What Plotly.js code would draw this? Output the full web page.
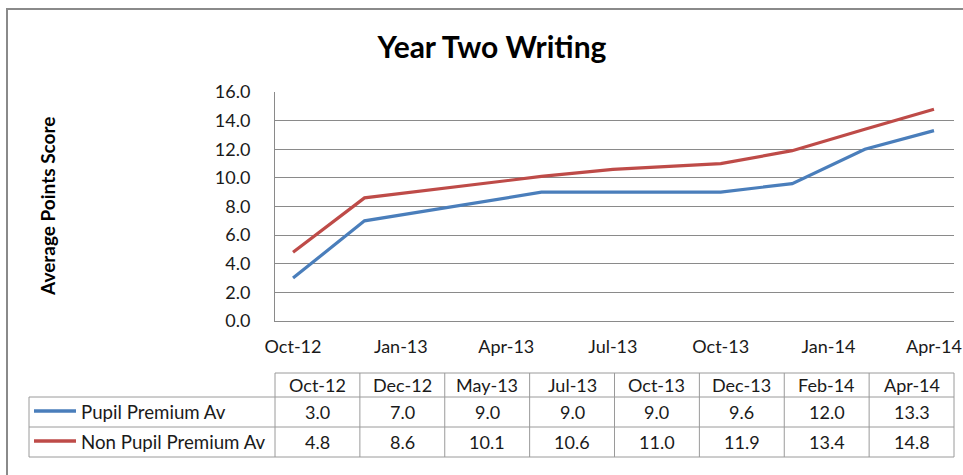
<!DOCTYPE html>
<html>
<head>
<meta charset="utf-8">
<script src="https://cdn.plot.ly/plotly-3.0.1.min.js"></script>
<style>
  html, body { margin: 0; padding: 0; background: #fff; overflow: hidden; }
  #chart { width: 963px; height: 475px; overflow: hidden; }
</style>
</head>
<body>
<div id="chart"></div>
<script>
// ---- data ----
const dates = ['2012-10-01', '2012-12-01', '2013-05-01', '2013-07-01', '2013-10-01', '2013-12-01', '2014-02-01', '2014-04-01'];
const tableLabels = ['Oct-12', 'Dec-12', 'May-13', 'Jul-13', 'Oct-13', 'Dec-13', 'Feb-14', 'Apr-14'];
const pupilPremium = [3.0, 7.0, 9.0, 9.0, 9.0, 9.6, 12.0, 13.3];
const nonPupilPremium = [4.8, 8.6, 10.1, 10.6, 11.0, 11.9, 13.4, 14.8];
const seriesNames = ['Pupil Premium Av', 'Non Pupil Premium Av'];
const chartTitle = 'Year Two Writing';
const yTitle = 'Average Points Score';

// ---- styling / layout ----
const colors = ['#4A7EBB', '#BE4B48'];
const FONT = 'Lato, "Open Sans", sans-serif';
const W = 963, H = 475;
const PL = 275, PR = 954, PT = 92, PB = 321;
const px = x => (x - PL) / (PR - PL);
const py = y => (PB - y) / (PB - PT);

const traces = [pupilPremium, nonPupilPremium].map((vals, i) => ({
  x: dates, y: vals, type: 'scatter', mode: 'lines', name: seriesNames[i],
  line: { color: colors[i], width: 3.2 }, hoverinfo: 'x+y'
}));

const shapes = [];
const annotations = [];
const lineCol = '#9a9a9a';
function hline(y, x0, x1, c, w) {
  shapes.push({ type: 'line', xref: 'paper', yref: 'paper', x0: px(x0), x1: px(x1), y0: py(y), y1: py(y), line: { color: c || lineCol, width: w || 1 } });
}
function vline(x, y0, y1, c, w) {
  shapes.push({ type: 'line', xref: 'paper', yref: 'paper', x0: px(x), x1: px(x), y0: py(y0), y1: py(y1), line: { color: c || lineCol, width: w || 1 } });
}

// outer chart border (only left + top visible in the frame)
hline(9, 6, 963, '#8a8a8a', 2);
vline(7, 8, 475, '#8a8a8a', 2);

// data table
const tTop = 373, tH = 397, tR1 = 427, tBot = 457, tLeft = 29;
const colW = (PR - PL) / tableLabels.length;
hline(tTop, PL, PR);
hline(tH, tLeft, PR);
hline(tR1, tLeft, PR);
hline(tBot, tLeft, PR);
vline(tLeft, tH, tBot);
for (let i = 0; i <= tableLabels.length; i++) vline(PL + i * colW, tTop, tBot);

const txt = (x, y, t, anchor, size) => annotations.push({
  xref: 'paper', yref: 'paper', x: px(x), y: py(y), text: t, showarrow: false,
  xanchor: anchor || 'center', yanchor: 'middle', font: { family: FONT, size: size || 18, color: '#1a1a1a' }
});
tableLabels.forEach((lab, i) => txt(PL + (i + 0.5) * colW, (tTop + tH) / 2, lab));
[pupilPremium, nonPupilPremium].forEach((vals, r) => {
  const yc = r === 0 ? (tH + tR1) / 2 : (tR1 + tBot) / 2;
  vals.forEach((v, i) => txt(PL + (i + 0.5) * colW, yc, v.toFixed(1)));
  shapes.push({ type: 'line', xref: 'paper', yref: 'paper', x0: px(34), x1: px(76), y0: py(yc - 1), y1: py(yc - 1), line: { color: colors[r], width: 3.5 } });
  txt(79, yc, seriesNames[r], 'left', 18.7);
});

// y-axis title
annotations.push({
  xref: 'paper', yref: 'paper', x: px(47), y: py(207), text: '<b>' + yTitle + '</b>', textangle: -90,
  showarrow: false, xanchor: 'center', yanchor: 'middle', font: { family: FONT, size: 19, color: '#000' }
});

const layout = {
  width: W, height: H,
  margin: { l: PL, r: W - PR, t: PT, b: H - PB, pad: 0 },
  paper_bgcolor: '#fff', plot_bgcolor: '#fff',
  showlegend: false,
  title: { text: '<b>' + chartTitle + '</b>', x: 492 / W, xanchor: 'center', y: 1 - 47 / H, yanchor: 'middle', font: { family: FONT, size: 30, color: '#000' } },
  font: { family: FONT, size: 18, color: '#1a1a1a' },
  xaxis: {
    type: 'date', range: ['2012-09-15 15:00', '2014-04-18 02:00'],
    tick0: '2012-10-01', dtick: 'M3', tickformat: '%b-%y',
    showgrid: false, zeroline: false, showline: true, linecolor: '#8a8a8a', linewidth: 1,
    ticks: '', ticklabelstandoff: 9, automargin: false,
    tickfont: { family: FONT, size: 18, color: '#1a1a1a' }
  },
  yaxis: {
    range: [0, 16], dtick: 2, tick0: 0, tickformat: '.1f',
    showgrid: true, gridcolor: '#8a8a8a', gridwidth: 1, zeroline: false,
    showline: true, linecolor: '#8a8a8a', linewidth: 1,
    ticks: '', ticklabelstandoff: 20, automargin: false,
    tickfont: { family: FONT, size: 18, color: '#1a1a1a' }
  },
  shapes: shapes, annotations: annotations
};

Plotly.newPlot('chart', traces, layout, { displayModeBar: false, staticPlot: true });
</script>
</body>
</html>
